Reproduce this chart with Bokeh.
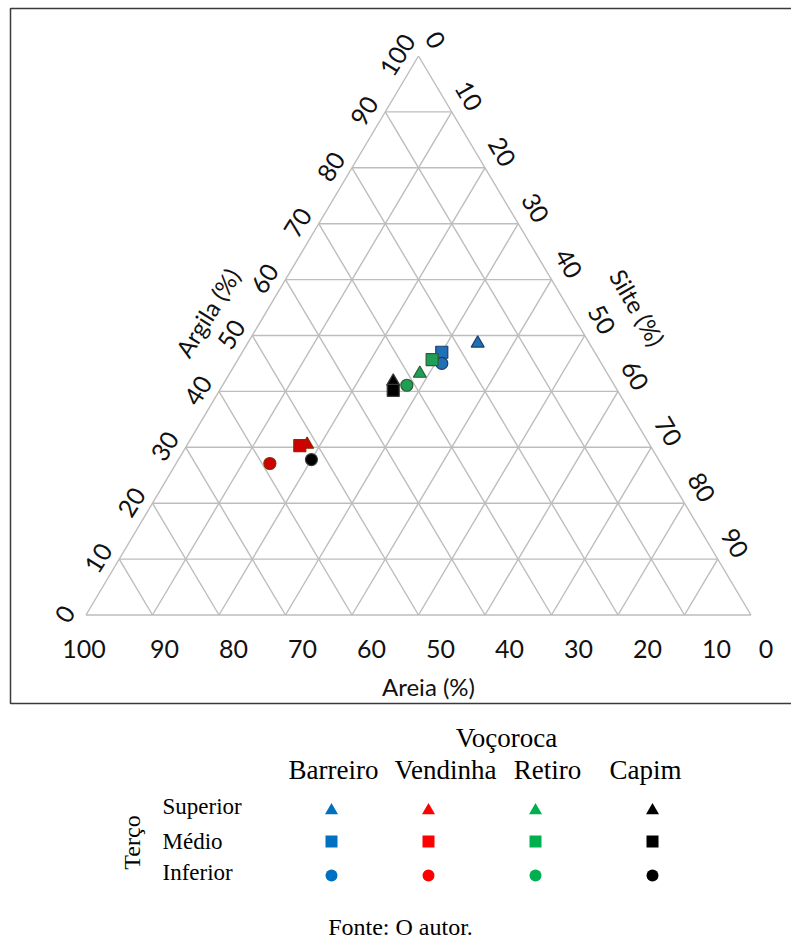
import math
from bokeh.plotting import figure
from bokeh.models import Range1d
from bokeh.core.properties import value
from bokeh.embed import file_html
from bokeh.resources import INLINE

# ---------------- data ----------------
areas = ["Barreiro", "Vendinha", "Retiro", "Capim"]
tercos = ["Superior", "Médio", "Inferior"]

areia_barreiro = [16.8, 23.0, 24.0]
silte_barreiro = [34.6, 30.0, 31.0]
argila_barreiro = [48.6, 47.0, 45.0]

areia_vendinha = [51.5, 52.7, 58.8]
silte_vendinha = [18.0, 17.0, 14.1]
argila_vendinha = [30.5, 30.3, 27.1]

areia_retiro = [28.2, 25.1, 31.2]
silte_retiro = [28.6, 29.2, 27.7]
argila_retiro = [43.2, 45.7, 41.1]

areia_capim = [32.9, 33.7, 52.2]
silte_capim = [25.3, 26.1, 20.0]
argila_capim = [41.8, 40.2, 27.8]

tick_values = [0, 10, 20, 30, 40, 50, 60, 70, 80, 90, 100]
grid_levels = [0, 10, 20, 30, 40, 50, 60, 70, 80, 90]
title_areia = "Areia (%)"
title_silte = "Silte (%)"
title_argila = "Argila (%)"
legend_header = "Voçoroca"
legend_row_title = "Terço"
caption = "Fonte: O autor."

# ---------------- styles ----------------
markers = ["triangle", "square", "circle"]
plot_fill = {"Barreiro": "#2070B8", "Vendinha": "#D00000", "Retiro": "#1E9E57", "Capim": "#000000"}
plot_line = {"Barreiro": "#1B3F6B", "Vendinha": "#8A2B00", "Retiro": "#2E5F2E", "Capim": "#3A3A3A"}
legend_fill = {"Barreiro": "#0070C0", "Vendinha": "#FF0000", "Retiro": "#00B050", "Capim": "#000000"}
marker_size = {"triangle": 13, "square": 12, "circle": 12}

# ---------------- geometry (page px -> data) ----------------
PAGE_L, PAGE_T = 0, 0
W, H = 791, 941
X0, Y0 = 85.5, 614.5   # page px of the 100 % areia corner
SX, SY = 6.65, 5.59    # page px per percent


def px2x(px):
    return (px - X0) / SX


def py2y(py):
    return (Y0 - py) / SY


def tern(silte, argila):
    return silte + argila / 2.0, argila


p = figure(width=W, height=H, output_backend="svg", toolbar_location=None,
           x_range=Range1d(px2x(PAGE_L), px2x(PAGE_L + W)),
           y_range=Range1d(py2y(PAGE_T + H), py2y(PAGE_T)),
           x_axis_location=None, y_axis_location=None, min_border=0)
p.xgrid.grid_line_color = None
p.ygrid.grid_line_color = None
p.outline_line_color = None
p.background_fill_color = "white"
p.border_fill_color = "white"

# outer box
p.quad(left=[px2x(10)], right=[px2x(800)], top=[py2y(8)], bottom=[py2y(703)],
       fill_color=None, line_color="#3A3A3A", line_width=1.5)

# ternary grid
xs, ys = [], []
for v in grid_levels:
    a = tern(0, v); b = tern(100 - v, v)          # constant argila
    xs.append([a[0], b[0]]); ys.append([a[1], b[1]])
    a = tern(v, 0); b = tern(v, 100 - v)          # constant silte
    xs.append([a[0], b[0]]); ys.append([a[1], b[1]])
    a = tern(100 - v, 0); b = tern(0, 100 - v)    # constant areia
    xs.append([a[0], b[0]]); ys.append([a[1], b[1]])
p.multi_line(xs, ys, line_color="#BDBDBD", line_width=1.4)

# tick labels
TICK_FONT = value("Lato")
TICK_SIZE = value("25px")
lx, ly, lt = [], [], []
for v in tick_values:                               # argila (left edge)
    x, y = tern(0, v)
    lx.append(x + (-21) / SX); ly.append(y + 1 / SY); lt.append(str(v))
p.text(x=lx, y=ly, text=lt, angle=math.radians(58), text_font=TICK_FONT,
       text_font_size=TICK_SIZE, text_align="center", text_baseline="middle", text_color="#111111")
lx, ly, lt = [], [], []
for v in tick_values[:-1]:                          # silte (right edge)
    x, y = tern(v, 100 - v)
    lx.append(x + 17 / SX); ly.append(y + 16 / SY); lt.append(str(v))
p.text(x=lx, y=ly, text=lt, angle=math.radians(-60), text_font=TICK_FONT,
       text_font_size=TICK_SIZE, text_align="center", text_baseline="middle", text_color="#111111")
lx, ly, lt = [], [], []
for v in tick_values:                               # areia (bottom)
    x, y = tern(100 - v, 0)
    if v == 100:
        off = -2
    elif v == 0:
        off = 15
    else:
        off = 12 + (90 - v) * 0.25
    lx.append(x + off / SX); ly.append(py2y(648)); lt.append(str(v))
p.text(x=lx, y=ly, text=lt, text_font=TICK_FONT,
       text_font_size=TICK_SIZE, text_align="center", text_baseline="middle", text_color="#111111")

# axis titles
TITLE_SIZE = value("24px")
p.text(x=[px2x(428)], y=[py2y(686)], text=[title_areia], text_font=TICK_FONT,
       text_font_size=TITLE_SIZE, text_align="center", text_baseline="middle", text_color="#111111")
p.text(x=[px2x(207)], y=[py2y(312)], text=[title_argila], angle=math.radians(58), text_font=TICK_FONT,
       text_font_size=TITLE_SIZE, text_align="center", text_baseline="middle", text_color="#111111")
p.text(x=[px2x(637)], y=[py2y(307)], text=[title_silte], angle=math.radians(-60), text_font=TICK_FONT,
       text_font_size=TITLE_SIZE, text_align="center", text_baseline="middle", text_color="#111111")

# data points
series = {
    "Barreiro": (areia_barreiro, silte_barreiro, argila_barreiro),
    "Vendinha": (areia_vendinha, silte_vendinha, argila_vendinha),
    "Retiro": (areia_retiro, silte_retiro, argila_retiro),
    "Capim": (areia_capim, silte_capim, argila_capim),
}
for area in areas:
    ar, si, cl = series[area]
    for i, terco in enumerate(tercos):
        x, y = tern(si[i], cl[i])
        m = markers[i]
        p.scatter(x=[x], y=[y], marker=m, size=marker_size[m],
                  fill_color=plot_fill[area], line_color=plot_line[area], line_width=1.2)

# ---------------- legend (below the chart) ----------------
SERIF = value("Liberation Serif")
col_px = [331, 428, 535, 652]
head_px = [333, 445, 547, 645]
row_px = [810, 841, 875]
p.text(x=[px2x(506)], y=[py2y(737)], text=[legend_header], text_font=SERIF,
       text_font_size=value("27px"), text_align="center", text_baseline="middle", text_color="black")
p.text(x=[px2x(hx) for hx in head_px], y=[py2y(769)] * len(areas), text=areas, text_font=SERIF,
       text_font_size=value("27px"), text_align="center", text_baseline="middle", text_color="black")
p.text(x=[px2x(162)] * len(tercos), y=[py2y(ry) for ry in [806, 841, 872]], text=tercos, text_font=SERIF,
       text_font_size=value("23px"), text_align="left", text_baseline="middle", text_color="black")
p.text(x=[px2x(131)], y=[py2y(842)], text=[legend_row_title], angle=math.radians(90), text_font=SERIF,
       text_font_size=value("24px"), text_align="center", text_baseline="middle", text_color="black")
for j, area in enumerate(areas):
    for i, terco in enumerate(tercos):
        m = markers[i]
        p.scatter(x=[px2x(col_px[j])], y=[py2y(row_px[i])], marker=m, size=marker_size[m],
                  fill_color=legend_fill[area], line_color=None)

p.text(x=[px2x(400)], y=[py2y(926)], text=[caption], text_font=SERIF,
       text_font_size=value("24px"), text_align="center", text_baseline="middle", text_color="black")

open("out.html", "w").write(file_html(p, INLINE))
